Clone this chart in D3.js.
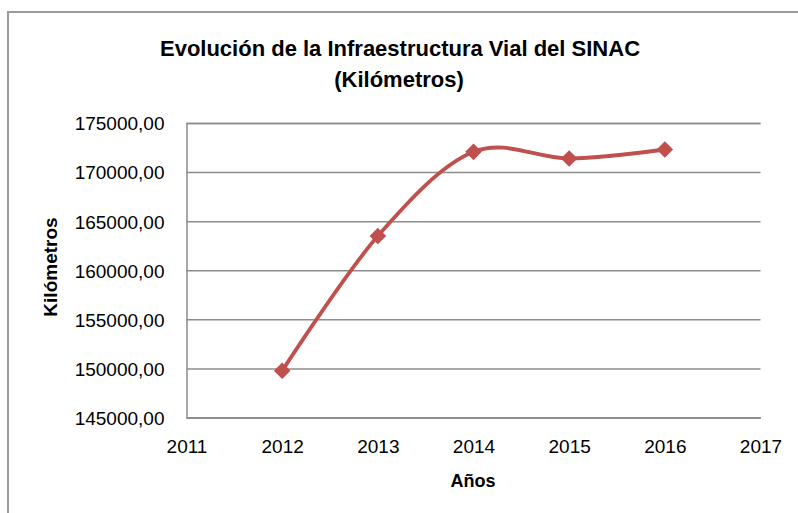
<!DOCTYPE html>
<html>
<head>
<meta charset="utf-8">
<script src="https://cdn.jsdelivr.net/npm/d3@7"></script>
<style>
  html, body { margin: 0; padding: 0; background: #ffffff; }
  svg { display: block; }
  text { font-family: "Liberation Sans", Arial, sans-serif; fill: #000; }
</style>
</head>
<body>
<svg id="chart" width="798" height="513"></svg>
<script>
// Road network length per year (km)
const years = [2012, 2013, 2014, 2015, 2016];
const kilometers = [149760, 163480, 172060, 171390, 172300];
const yTicks = [145000, 150000, 155000, 160000, 165000, 170000, 175000];
const xTicks = [2011, 2012, 2013, 2014, 2015, 2016, 2017];
const titleLines = ["Evolución de la Infraestructura Vial del SINAC", "(Kilómetros)"];
const xTitle = "Años";
const yTitle = "Kilómetros";

const svg = d3.select("#chart");
const W = 798, H = 513;
const plot = { left: 186.5, right: 760.5, top: 123, bottom: 417.5 };

// chart frame
svg.append("rect")
  .attr("x", 8).attr("y", 12)
  .attr("width", W + 10).attr("height", H + 10)
  .attr("fill", "#fff").attr("stroke", "#9a9a9a").attr("stroke-width", 2);

const x = d3.scaleLinear().domain([2011, 2017]).range([plot.left, plot.right]);
const y = d3.scaleLinear().domain([145000, 175000]).range([plot.bottom, plot.top]);

// horizontal gridlines + y tick labels
const yAxis = d3.axisLeft(y)
  .tickValues(yTicks)
  .tickSize(-(plot.right - plot.left))
  .tickPadding(22)
  .tickFormat(d => d3.format(".2f")(d).replace(".", ","));
const gy = svg.append("g").attr("transform", `translate(${plot.left},0)`).call(yAxis);
gy.select(".domain").attr("stroke", "#8c8c8c").attr("stroke-width", 1.5);
gy.selectAll(".tick line").attr("stroke", "#8c8c8c").attr("stroke-width", 1.5);
gy.selectAll(".tick text")
  .attr("font-size", 19).attr("font-family", "Liberation Sans, Arial, sans-serif")
  .attr("fill", "#000").attr("dy", "0.36em");

// x axis labels
const xAxis = d3.axisBottom(x).tickValues(xTicks).tickSize(0).tickPadding(22).tickFormat(d3.format("d"));
const gx = svg.append("g").attr("transform", `translate(0,${plot.bottom})`).call(xAxis);
gx.select(".domain").attr("stroke", "#8c8c8c").attr("stroke-width", 1.5);
gx.selectAll(".tick text")
  .attr("font-size", 19).attr("font-family", "Liberation Sans, Arial, sans-serif")
  .attr("fill", "#000");

// smoothed series line
const line = d3.line()
  .x((d, i) => x(years[i]))
  .y(d => y(d))
  .curve(d3.curveCardinal.tension(0));
svg.append("path")
  .datum(kilometers)
  .attr("d", line)
  .attr("fill", "none")
  .attr("stroke", "#C0504D")
  .attr("stroke-width", 3.8)
  .attr("stroke-linejoin", "round");

// diamond markers
const diamond = d3.symbol().type(d3.symbolDiamond2).size(175);
svg.selectAll(".marker")
  .data(kilometers)
  .join("path")
  .attr("class", "marker")
  .attr("transform", (d, i) => `translate(${x(years[i])},${y(d)})`)
  .attr("d", diamond)
  .attr("fill", "#C0504D");

// titles
svg.append("text")
  .attr("x", 400).attr("y", 56)
  .attr("text-anchor", "middle")
  .attr("font-size", 22).attr("font-weight", "bold")
  .text(titleLines[0]);
svg.append("text")
  .attr("x", 399).attr("y", 87)
  .attr("text-anchor", "middle")
  .attr("font-size", 22).attr("font-weight", "bold")
  .text(titleLines[1]);

svg.append("text")
  .attr("x", 473).attr("y", 487)
  .attr("text-anchor", "middle")
  .attr("font-size", 18).attr("font-weight", "bold")
  .text(xTitle);

svg.append("text")
  .attr("transform", "translate(57,267) rotate(-90)")
  .attr("text-anchor", "middle")
  .attr("font-size", 19).attr("font-weight", "bold")
  .text(yTitle);
</script>
</body>
</html>
